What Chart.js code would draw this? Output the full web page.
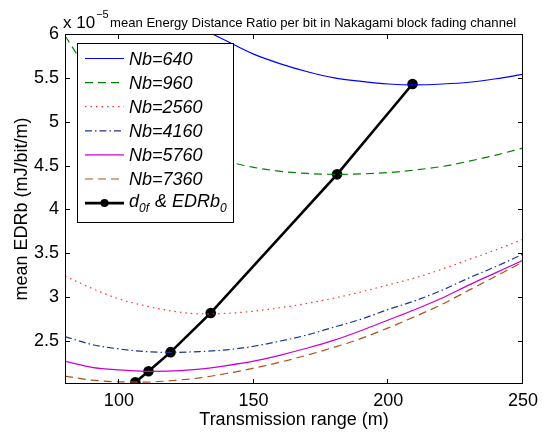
<!DOCTYPE html>
<html>
<head>
<meta charset="utf-8">
<script src="https://cdn.jsdelivr.net/npm/chart.js@4.4.0/dist/chart.umd.min.js"></script>
<style>
  html, body { margin: 0; padding: 0; background: #fff; }
  #wrap { width: 544px; height: 432px; }
</style>
</head>
<body>
<div id="wrap"><canvas id="chartEdr" width="544" height="432"></canvas></div>
<script>
// transmission range (m) sampled along each curve
const ranges = [80, 90, 100, 110, 120, 130, 140, 150, 160, 170, 180, 190, 200, 210, 220, 230, 240, 250];

// mean EDRb (x 1e-5 mJ/bit/m), one array per block size
const edrNb640  = [8.2, 7.5, 7.0, 6.62, 6.32, 6.08, 5.92, 5.77, 5.66, 5.57, 5.50, 5.46, 5.43, 5.42, 5.43, 5.45, 5.49, 5.54];
const edrNb960  = [5.98, 5.52, 5.20, 4.96, 4.78, 4.64, 4.55, 4.48, 4.435, 4.41, 4.40, 4.405, 4.42, 4.45, 4.49, 4.55, 4.62, 4.70];
const edrNb2560 = [3.24, 3.10, 2.98, 2.90, 2.84, 2.81, 2.815, 2.84, 2.88, 2.93, 2.99, 3.06, 3.14, 3.22, 3.32, 3.43, 3.54, 3.66];
const edrNb4160 = [2.55, 2.46, 2.41, 2.38, 2.37, 2.38, 2.40, 2.44, 2.50, 2.57, 2.66, 2.75, 2.86, 2.96, 3.08, 3.22, 3.35, 3.49];
const edrNb5760 = [2.27, 2.20, 2.17, 2.155, 2.16, 2.18, 2.22, 2.27, 2.34, 2.42, 2.51, 2.62, 2.74, 2.86, 2.99, 3.14, 3.28, 3.42];
const edrNb7360 = [2.10, 2.055, 2.035, 2.032, 2.05, 2.08, 2.13, 2.19, 2.26, 2.34, 2.43, 2.53, 2.65, 2.78, 2.92, 3.08, 3.24, 3.40];

// optimum range d0f and its EDRb0 for each block size
const optRange = [106.1, 111, 119.2, 134.1, 181, 209];
const optEdr   = [2.03, 2.156, 2.373, 2.82, 4.40, 5.43];

const seriesLabels = ["Nb=640", "Nb=960", "Nb=2560", "Nb=4160", "Nb=5760", "Nb=7360"];
const xTicks = [100, 150, 200, 250];
const yTicks = [2.5, 3, 3.5, 4, 4.5, 5, 5.5, 6];

const FONT = '"Liberation Sans", Arial, Helvetica, sans-serif';

const curveStyles = [
    { color: "#0000ff", dash: [] },
    { color: "#008000", dash: [8, 5] },
    { color: "#ff3030", dash: [1.5, 4] },
    { color: "#1a3399", dash: [7, 3, 1.5, 3] },
    { color: "#cc00cc", dash: [] },
    { color: "#b34d1a", dash: [8, 5] },
];

const curves = [edrNb640, edrNb960, edrNb2560, edrNb4160, edrNb5760, edrNb7360];

const datasets = curves.map((vals, idx) => ({
    label: seriesLabels[idx],
    data: ranges.map((r, i) => ({ x: r, y: vals[i] })),
    borderColor: curveStyles[idx].color,
    borderDash: curveStyles[idx].dash,
    borderWidth: 1.2,
    pointRadius: 0,
    cubicInterpolationMode: "monotone",
    fill: false,
}));

datasets.push({
    label: "d0f & EDRb0",
    data: optRange.map((r, i) => ({ x: r, y: optEdr[i] })),
    borderColor: "#000",
    backgroundColor: "#000",
    borderWidth: 2.6,
    pointRadius: 4,
    pointBackgroundColor: "#000",
    pointBorderColor: "#000",
    tension: 0,
    fill: false,
});

// box, inward ticks, exponent title and the legend (MATLAB look)
const frame = {
    id: "frame",
    afterDraw(chart) {
        const { ctx, chartArea: a, scales: { x, y } } = chart;
        ctx.save();
        ctx.strokeStyle = "#000";
        ctx.lineWidth = 1;
        ctx.setLineDash([]);
        ctx.strokeRect(a.left + 0.5, a.top + 0.5, a.right - a.left - 1, a.bottom - a.top - 1);

        ctx.beginPath();
        xTicks.forEach(v => {
            const px = Math.round(x.getPixelForValue(v)) - 0.5;
            ctx.moveTo(px, a.bottom); ctx.lineTo(px, a.bottom - 5);
            ctx.moveTo(px, a.top); ctx.lineTo(px, a.top + 5);
        });
        yTicks.forEach(v => {
            const py = Math.round(y.getPixelForValue(v)) + 0.5;
            ctx.moveTo(a.left, py); ctx.lineTo(a.left + 5, py);
            ctx.moveTo(a.right, py); ctx.lineTo(a.right - 5, py);
        });
        ctx.stroke();

        // title with exponent
        ctx.fillStyle = "#000";
        ctx.textBaseline = "alphabetic";
        ctx.textAlign = "left";
        ctx.font = "17px " + FONT;
        ctx.fillText("x 10", 63, 28);
        const w10 = ctx.measureText("x 10").width;
        ctx.font = "11px " + FONT;
        ctx.fillText("\u22125", 63 + w10 + 1, 18);
        ctx.font = "13.1px " + FONT;
        ctx.fillText("mean Energy Distance Ratio per bit in Nakagami block fading channel", 110, 27);

        // legend
        const lx = 77.5, ly = 43.5, lw = 156, lh = 179;
        ctx.fillStyle = "#fff";
        ctx.fillRect(lx, ly, lw, lh);
        ctx.strokeStyle = "#000";
        ctx.lineWidth = 1;
        ctx.strokeRect(lx, ly, lw, lh);

        const rowY = i => 58.5 + i * 24.1;
        ctx.textBaseline = "middle";
        curveStyles.forEach((s, i) => {
            const ry = rowY(i);
            ctx.strokeStyle = s.color;
            ctx.lineWidth = 1.2;
            ctx.setLineDash(s.dash);
            ctx.beginPath();
            ctx.moveTo(85, ry); ctx.lineTo(124, ry);
            ctx.stroke();
            ctx.setLineDash([]);
            ctx.fillStyle = "#000";
            ctx.font = "italic 18px " + FONT;
            ctx.fillText(seriesLabels[i], 129, ry + 1);
        });

        // last row: d_0f & EDRb_0
        const ry = rowY(6);
        ctx.strokeStyle = "#000";
        ctx.lineWidth = 2.6;
        ctx.beginPath();
        ctx.moveTo(85, ry); ctx.lineTo(124, ry);
        ctx.stroke();
        ctx.fillStyle = "#000";
        ctx.beginPath();
        ctx.arc(104.5, ry, 4, 0, Math.PI * 2);
        ctx.fill();

        let tx = 129;
        const big = "italic 18px " + FONT, small = "italic 12px " + FONT;
        ctx.font = big; ctx.fillText("d", tx, ry - 1); tx += ctx.measureText("d").width;
        ctx.font = small; ctx.fillText("0f", tx, ry + 6); tx += ctx.measureText("0f").width + 1;
        ctx.font = big; ctx.fillText(" & EDRb", tx, ry - 1); tx += ctx.measureText(" & EDRb").width;
        ctx.font = small; ctx.fillText("0", tx, ry + 6);

        ctx.restore();
    },
};

new Chart(document.getElementById("chartEdr"), {
    type: "line",
    data: { datasets },
    options: {
        responsive: false,
        animation: false,
        devicePixelRatio: 1,
        layout: { padding: { top: 34, right: 16, left: 0, bottom: 0 } },
        plugins: {
            legend: { display: false },
            tooltip: { enabled: false },
        },
        scales: {
            x: {
                type: "linear",
                min: 80,
                max: 250,
                afterFit: s => { s.height = 48; },
                afterBuildTicks: s => { s.ticks = xTicks.map(v => ({ value: v })); },
                grid: { display: false, drawTicks: false },
                border: { display: false },
                ticks: { color: "#000", font: { family: FONT, size: 18 }, padding: 6, maxRotation: 0 },
                title: {
                    display: true,
                    text: "Transmission range (m)",
                    color: "#000",
                    font: { family: FONT, size: 18 },
                    padding: { top: 0, bottom: 1 },
                },
            },
            y: {
                type: "linear",
                min: 2.01,
                max: 6,
                afterFit: s => { s.width = 65; },
                afterBuildTicks: s => { s.ticks = yTicks.map(v => ({ value: v })); },
                grid: { display: false, drawTicks: false },
                border: { display: false },
                ticks: {
                    color: "#000",
                    font: { family: FONT, size: 18 },
                    padding: 6,
                    callback: v => String(v),
                },
                title: {
                    display: true,
                    text: "mean EDRb (mJ/bit/m)",
                    color: "#000",
                    font: { family: FONT, size: 18 },
                    padding: { top: 11, bottom: 0 },
                },
            },
        },
    },
    plugins: [frame],
});
</script>
</body>
</html>
